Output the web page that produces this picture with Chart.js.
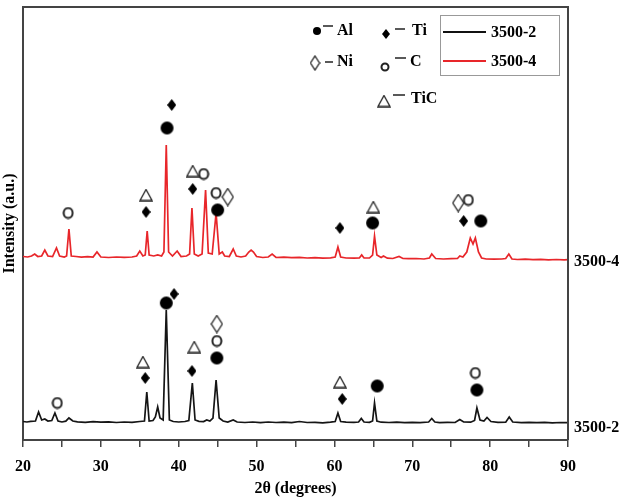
<!DOCTYPE html>
<html><head><meta charset="utf-8">
<script src="https://cdn.jsdelivr.net/npm/chart.js@4"></script>
<style>html,body{margin:0;padding:0;background:#fff}#wrap{width:625px;height:498px;position:relative}</style>
</head><body><div id="wrap"><canvas id="c" width="625" height="498"></canvas></div>
<script>
// ---- data ----
const xTickLabels=[20,30,40,50,60,70,80,90];
const seriesNames=['3500-2','3500-4'];
const black2Theta=[20.0,20.5,21.0,21.6,22.0,22.4,22.8,23.2,23.7,24.1,24.5,25.0,25.5,25.9,26.4,27,28,29,30,31,32,33,34,35,35.6,35.9,36.2,36.7,37.0,37.3,37.6,38.0,38.4,38.8,39.3,40,40.8,41.3,41.75,42.1,42.6,43.2,43.6,44.0,44.4,44.8,45.2,45.7,46.3,47.0,47.5,48.5,49.5,50.5,51.5,52.5,53.5,54.5,55.5,56.5,57.5,58.5,59.5,60.1,60.45,60.8,61.5,62.5,63.1,63.45,63.8,64.5,64.9,65.15,65.45,66,67,68,69,70,71,72.1,72.5,72.9,73.5,74.5,75.5,76.1,76.6,77.5,78.0,78.3,78.7,79.2,79.6,80.1,81,82.0,82.45,82.9,84,85,86,87,88,89,90];
const blackIntensity=[18.5,18,18.6,19,28,20,21,19,19.5,27,19,18,18.8,22,19,18.2,17.6,18.3,17.8,18.2,17.5,18,17.6,18.5,19,48,19,19.5,23,33,22,20,130,20,18.5,18,18.5,19.5,57,20,18.6,18.4,20,19,22,60,22,19,18,20,18,17.5,18,17.4,18,17.5,17.8,17.3,18.5,17.5,17.6,17.2,17.8,18.5,27,18.5,17.8,17.6,18,21.5,18,17.6,19,37,19,17.8,17.5,17.8,17.3,17.6,17.4,18,21.5,18,17.4,17.6,17.5,20.5,18,17.8,19.5,32,20,19,22.5,18.5,17.6,17.8,23,18,17.4,17.6,17.3,17.6,17.2,17.5,17.3];
const red2Theta=[20.0,20.6,21.1,21.5,21.9,22.4,22.8,23.2,23.8,24.3,24.7,25.3,25.6,25.9,26.2,26.8,27.5,28.3,29.0,29.5,30.0,31,32,33,34,34.6,35.0,35.4,35.7,35.95,36.2,36.8,37.3,37.8,38.1,38.4,38.7,39.2,39.8,40.3,41.0,41.4,41.7,42.0,42.5,43.0,43.45,43.8,44.3,44.8,45.2,45.6,45.9,46.5,47.0,47.4,48,48.6,49.0,49.3,49.6,50.0,50.8,51.5,52.0,52.5,53.5,54.5,55.5,56.5,57.5,58.5,59.5,60.1,60.45,60.8,61.5,62.5,63.2,63.5,63.8,64.5,64.9,65.15,65.45,66.0,66.3,66.8,67.5,68.3,68.8,69.5,70.5,71.5,72.2,72.5,73.0,74,75,75.8,76.1,76.5,77.0,77.45,77.8,78.1,78.5,78.9,79.5,80.5,81.5,82.0,82.4,82.8,83.5,84.5,85.5,86.5,87.5,88.5,89.5,90];
const redIntensity=[183.5,183,184,186,183.5,184,190,184,183.5,192,184,183,184,211,184,183.5,182.8,183.4,183,188,183,182.5,183,182.6,183,184,189,184,185,209,185,184,185,184,188,295,188,184,189,183.5,184,186,232,186,184,186,250,187,186,227,186,188,184,183.5,191,184,183,184,188,190,188,183.5,182.5,183,186,182.5,182.8,182.3,182.6,182,182.4,181.8,182.2,183,193,183,182,181.8,182,185,182,182,185,204,185,182.5,184,181.8,181.5,183.5,181.5,181.3,181.5,181,182,186,181.5,181,181.3,181.5,184,183,188,202,196,202,188,182,181,180.8,181,181.5,186,181,180.5,180.8,180.3,180.6,180.2,180.5,180.1,180.3];
// phase markers: [2θ, intensity]
const phaseNames=['Al','Ti','Ni','C','TiC'];
const alMarks=[[38.5,312],[45.0,230],[64.9,217],[78.8,219],[38.4,137],[44.9,82],[65.5,54],[78.3,50]];
const tiMarks=[[35.8,228],[39.1,335],[41.8,251],[60.7,212],[76.6,219],[35.7,62],[39.4,146],[41.7,69],[61.0,41]];
const niMarks=[[46.3,243],[75.9,237],[44.9,116]];
const cMarks=[[25.8,227],[43.2,266],[44.8,247],[77.2,240],[24.4,37],[44.9,99],[78.1,67]];
const ticMarks=[[35.8,245],[41.8,269],[65.0,233],[35.4,78],[42.0,93],[60.7,58]];

// ---- styling ----
const FONT="bold 16px 'Liberation Serif', 'Times New Roman', serif";
const AXIS='#444';
function mk(w,h,draw){const c=document.createElement('canvas');c.width=w;c.height=h;draw(c.getContext('2d'),w,h);return c;}
function dot(r){return mk(2*r+2,2*r+2,g=>{g.fillStyle='#000';g.beginPath();g.arc(r+1,r+1,r,0,Math.PI*2);g.fill();});}
function dia(w,h){return mk(w,h,g=>{g.fillStyle='#000';g.beginPath();g.moveTo(w/2,0);g.lineTo(w,h/2);g.lineTo(w/2,h);g.lineTo(0,h/2);g.closePath();g.fill();});}
function hdia(w,h){return mk(w,h,g=>{g.strokeStyle='#222';g.lineWidth=1.3;g.beginPath();g.moveTo(w/2,1);g.lineTo(w-1,h/2);g.lineTo(w/2,h-1);g.lineTo(1,h/2);g.closePath();g.stroke();});}
function oh(w,h){return mk(w,h,g=>{g.strokeStyle='#222';g.lineWidth=2;g.beginPath();g.ellipse(w/2,h/2,w/2-1.5,h/2-1.5,0,0,Math.PI*2);g.stroke();});}
function tri(w,h){return mk(w,h,g=>{g.strokeStyle='#222';g.lineWidth=1.3;g.beginPath();g.moveTo(w/2,1);g.lineTo(w-1,h-1);g.lineTo(1,h-1);g.closePath();g.stroke();});}
const img={Al:dot(6.5),Ti:dia(9,12),Ni:hdia(13,19),C:oh(12,13),TiC:tri(14,13)};
const imgSmall={Al:dot(4),Ti:dia(8,10),Ni:hdia(11,16),C:oh(10,10),TiC:tri(14,13)};

const toPts=(xs,ys)=>xs.map((x,i)=>({x,y:ys[i]}));
const toMk=a=>a.map(p=>({x:p[0],y:p[1]}));
const markSets=[alMarks,tiMarks,niMarks,cMarks,ticMarks].map((m,i)=>({
  type:'scatter',data:toMk(m),pointStyle:img[phaseNames[i]],pointRadius:5,pointHoverRadius:5,showLine:false,order:0
}));

const deco={id:'deco',afterDraw(chart){
  const {ctx,chartArea:a,scales}=chart;ctx.save();
  ctx.strokeStyle=AXIS;ctx.lineWidth=2;ctx.beginPath();
  ctx.moveTo(a.left,a.top);ctx.lineTo(a.right,a.top);ctx.lineTo(a.right,a.bottom);ctx.stroke();
  ctx.font=FONT;ctx.fillStyle='#000';ctx.textBaseline='middle';ctx.textAlign='left';
  ctx.fillText(seriesNames[1],a.right+6,scales.y.getPixelForValue(redIntensity[redIntensity.length-1])+2);
  ctx.fillText(seriesNames[0],a.right+6,scales.y.getPixelForValue(blackIntensity[blackIntensity.length-1])+5);
  // phase key
  const key=[['Al',317,31,323,333,26,337,31],['Ti',386,34,395,405,29,412,31],['Ni',315,63,325,333,62,337,62],['C',385,67,395,406,58,410,62],['TiC',384,101,393,405,95,411,99]];
  key.forEach(k=>{const im=imgSmall[k[0]];ctx.drawImage(im,k[1]-im.width/2,k[2]-im.height/2);
    ctx.strokeStyle='#222';ctx.lineWidth=1.5;ctx.beginPath();ctx.moveTo(k[3],k[5]);ctx.lineTo(k[4],k[5]);ctx.stroke();
    ctx.fillText(k[0],k[6],k[7]);});
  // series box
  ctx.strokeStyle='#999';ctx.lineWidth=1;ctx.strokeRect(440.5,15.5,119,60);
  ctx.lineWidth=2;ctx.strokeStyle='#111';ctx.beginPath();ctx.moveTo(443,32);ctx.lineTo(486,32);ctx.stroke();
  ctx.strokeStyle='#e8262a';ctx.beginPath();ctx.moveTo(443,61);ctx.lineTo(486,61);ctx.stroke();
  ctx.fillStyle='#000';ctx.fillText(seriesNames[0],491,33);ctx.fillText(seriesNames[1],491,62);
  ctx.restore();
}};

new Chart(document.getElementById('c'),{
  type:'line',
  data:{datasets:[
    {label:seriesNames[1],data:toPts(red2Theta,redIntensity),borderColor:'#e8262a',borderWidth:1.7,pointRadius:0,tension:0,order:2},
    {label:seriesNames[0],data:toPts(black2Theta,blackIntensity),borderColor:'#151515',borderWidth:1.7,pointRadius:0,tension:0,order:1},
    ...markSets
  ]},
  options:{
    responsive:false,animation:false,devicePixelRatio:1,
    layout:{padding:{top:7,right:57,left:0,bottom:0}},
    plugins:{legend:{display:false},tooltip:{enabled:false}},
    scales:{
      x:{type:'linear',min:20,max:90,
        ticks:{stepSize:5,autoSkip:false,font:{family:"'Liberation Serif'",size:16,weight:'bold'},color:'#000',padding:10,maxRotation:0,
          callback:v=>xTickLabels.includes(v)?String(v):''},
        grid:{drawOnChartArea:false,drawTicks:true,tickLength:7,color:AXIS,lineWidth:1.5},
        border:{display:true,color:AXIS,width:2},
        title:{display:true,text:'2θ (degrees)',font:{family:"'Liberation Serif'",size:16,weight:'bold'},color:'#000',padding:{top:0,bottom:0}},
        afterFit:s=>{s.height=58;}},
      y:{min:0,max:433,ticks:{display:false},grid:{display:false},
        border:{display:true,color:AXIS,width:2},
        title:{display:true,text:'Intensity (a.u.)',font:{family:"'Liberation Serif'",size:16,weight:'bold'},color:'#000',padding:{top:0,bottom:0}},
        afterFit:s=>{s.width=23;}}
    }
  },
  plugins:[deco]
});
</script></body></html>
